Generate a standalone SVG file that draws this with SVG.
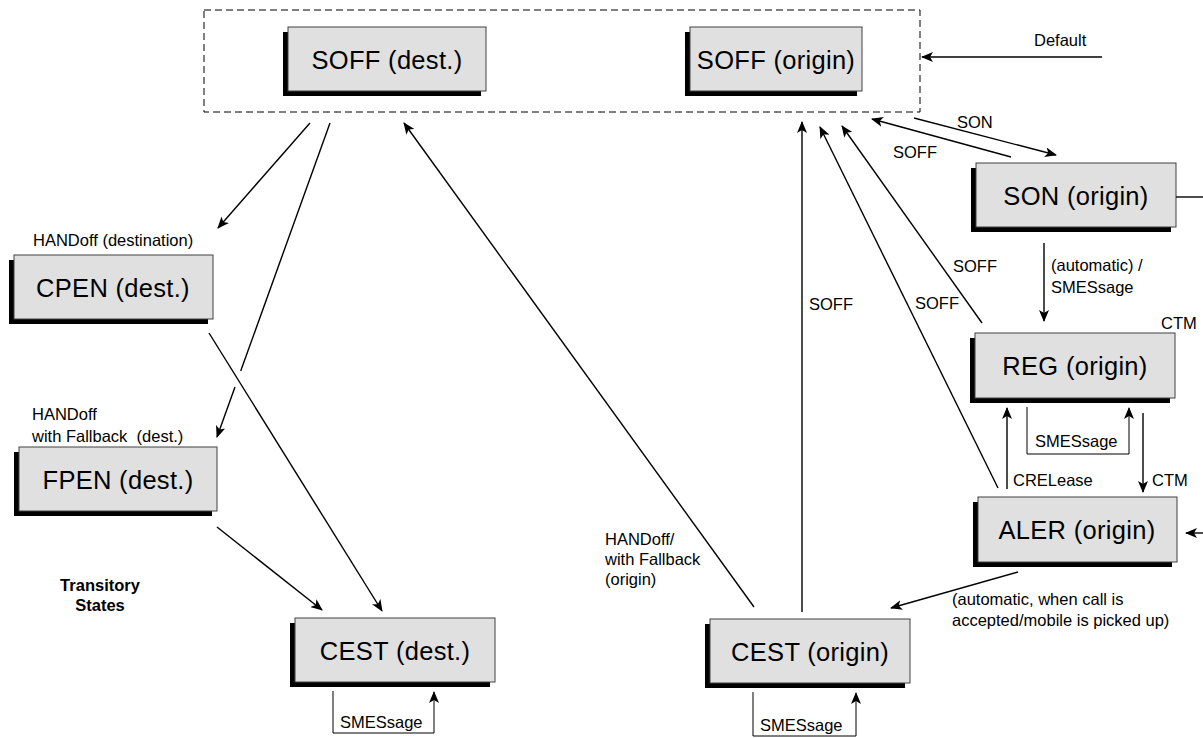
<svg xmlns="http://www.w3.org/2000/svg" width="1203" height="738" viewBox="0 0 1203 738">
<style>
.sh{fill:#000}
.bx{fill:#e0e0e0;stroke:#404040;stroke-width:1}
.nt{font-family:"Liberation Sans",Arial,sans-serif;font-size:25.5px;letter-spacing:0.3px;fill:#000;text-anchor:middle}
.lb{font-family:"Liberation Sans",Arial,sans-serif;font-size:16.5px;fill:#000}
.bd{font-family:"Liberation Sans",Arial,sans-serif;font-size:16.5px;font-weight:bold;fill:#000;text-anchor:middle}
.ln{fill:none;stroke:#000;stroke-width:1.4}
.lt{fill:none;stroke:#000;stroke-width:1}
.ar{marker-end:url(#ah)}
</style>
<defs>
<marker id="ah" viewBox="0 0 12 10" refX="11" refY="5" markerWidth="12" markerHeight="10" markerUnits="userSpaceOnUse" orient="auto">
<path d="M0,0 L12,5 L0,10 L3,5 z" fill="#000"/>
</marker>
</defs>
<rect x="204" y="10" width="716" height="102" fill="none" stroke="#000" stroke-width="1" stroke-dasharray="7,4"/>
<g id="soff-dest"><rect class="sh" x="283" y="32" width="198" height="64"/><rect class="bx" x="288" y="27" width="198" height="64"/><text class="nt" x="387" y="69">SOFF (dest.)</text></g>
<g id="soff-origin"><rect class="sh" x="685" y="32" width="172" height="64"/><rect class="bx" x="690" y="27" width="172" height="64"/><text class="nt" x="776" y="69">SOFF (origin)</text></g>
<g id="son-origin"><rect class="sh" x="971" y="168" width="200" height="64"/><rect class="bx" x="976" y="163" width="200" height="64"/><text class="nt" x="1076" y="205">SON (origin)</text></g>
<g id="reg-origin"><rect class="sh" x="970" y="338" width="200" height="65"/><rect class="bx" x="975" y="333" width="200" height="65"/><text class="nt" x="1075" y="375">REG (origin)</text></g>
<g id="aler-origin"><rect class="sh" x="973" y="502" width="199" height="65"/><rect class="bx" x="978" y="497" width="199" height="65"/><text class="nt" x="1077" y="539">ALER (origin)</text></g>
<g id="cpen-dest"><rect class="sh" x="9" y="260" width="199" height="64"/><rect class="bx" x="14" y="255" width="199" height="64"/><text class="nt" x="113" y="297">CPEN (dest.)</text></g>
<g id="fpen-dest"><rect class="sh" x="14" y="452" width="198" height="64"/><rect class="bx" x="19" y="447" width="198" height="64"/><text class="nt" x="118" y="489">FPEN (dest.)</text></g>
<g id="cest-dest"><rect class="sh" x="290" y="623" width="200" height="64"/><rect class="bx" x="295" y="618" width="200" height="64"/><text class="nt" x="395" y="660">CEST (dest.)</text></g>
<g id="cest-origin"><rect class="sh" x="705" y="624" width="200" height="64"/><rect class="bx" x="710" y="619" width="200" height="64"/><text class="nt" x="810" y="661">CEST (origin)</text></g>
<g id="connectors">
<line class="ln ar" x1="1102" y1="57" x2="922" y2="57"/>
<line class="ln ar" x1="914" y1="118" x2="1056" y2="155"/>
<line class="ln ar" x1="1011" y1="157" x2="872" y2="119"/>
<line class="ln" x1="1176" y1="197" x2="1203" y2="197"/>
<line class="ln ar" x1="1203" y1="533" x2="1186" y2="533"/>
<line class="ln ar" x1="1044" y1="243" x2="1044" y2="321"/>
<line class="ln ar" x1="982" y1="323" x2="842" y2="126"/>
<line class="ln ar" x1="998" y1="488" x2="820" y2="127"/>
<line class="ln ar" x1="802" y1="612" x2="802" y2="122"/>
<line class="ln ar" x1="754" y1="607" x2="404" y2="123"/>
<line class="ln ar" x1="310" y1="123" x2="218" y2="228"/>
<line class="ln" x1="330" y1="123" x2="240.7" y2="371"/>
<line class="ln ar" x1="235" y1="387" x2="217" y2="437"/>
<line class="ln ar" x1="209" y1="333" x2="382" y2="611"/>
<line class="ln ar" x1="217" y1="527" x2="322" y2="610"/>
<polyline class="lt ar" points="333,691 333,733 434,733 434,692"/>
<polyline class="lt ar" points="753,692 753,736 856,736 856,693"/>
<polyline class="lt ar" points="1027,407 1027,454 1129,454 1129,408"/>
<line class="ln ar" x1="1007" y1="489" x2="1007" y2="408"/>
<line class="ln ar" x1="1143" y1="413" x2="1143" y2="492"/>
<line class="ln ar" x1="1018" y1="572" x2="891" y2="608"/>
</g>
<g id="labels">
<text class="lb" x="1034" y="46">Default</text>
<text class="lb" x="957" y="128">SON</text>
<text class="lb" x="893" y="158">SOFF</text>
<text class="lb" x="1051" y="271">(automatic) /</text>
<text class="lb" x="1051" y="293">SMESsage</text>
<text class="lb" x="1161" y="329">CTM</text>
<text class="lb" x="953" y="272">SOFF</text>
<text class="lb" x="915" y="309">SOFF</text>
<text class="lb" x="809" y="310">SOFF</text>
<text class="lb" x="1035" y="447">SMESsage</text>
<text class="lb" x="1013" y="486">CRELease</text>
<text class="lb" x="1152" y="486">CTM</text>
<text class="lb" x="952" y="605">(automatic, when call is</text>
<text class="lb" x="952" y="626">accepted/mobile is picked up)</text>
<text class="lb" x="605" y="545">HANDoff/</text>
<text class="lb" x="605" y="565">with Fallback</text>
<text class="lb" x="605" y="585">(origin)</text>
<text class="lb" x="33" y="246">HANDoff (destination)</text>
<text class="lb" x="32" y="420">HANDoff</text>
<text class="lb" x="32" y="442">with Fallback&#160; (dest.)</text>
<text class="bd" x="100" y="591">Transitory</text>
<text class="bd" x="100" y="611">States</text>
<text class="lb" x="340" y="728">SMESsage</text>
<text class="lb" x="760" y="731">SMESsage</text>
</g>
</svg>
